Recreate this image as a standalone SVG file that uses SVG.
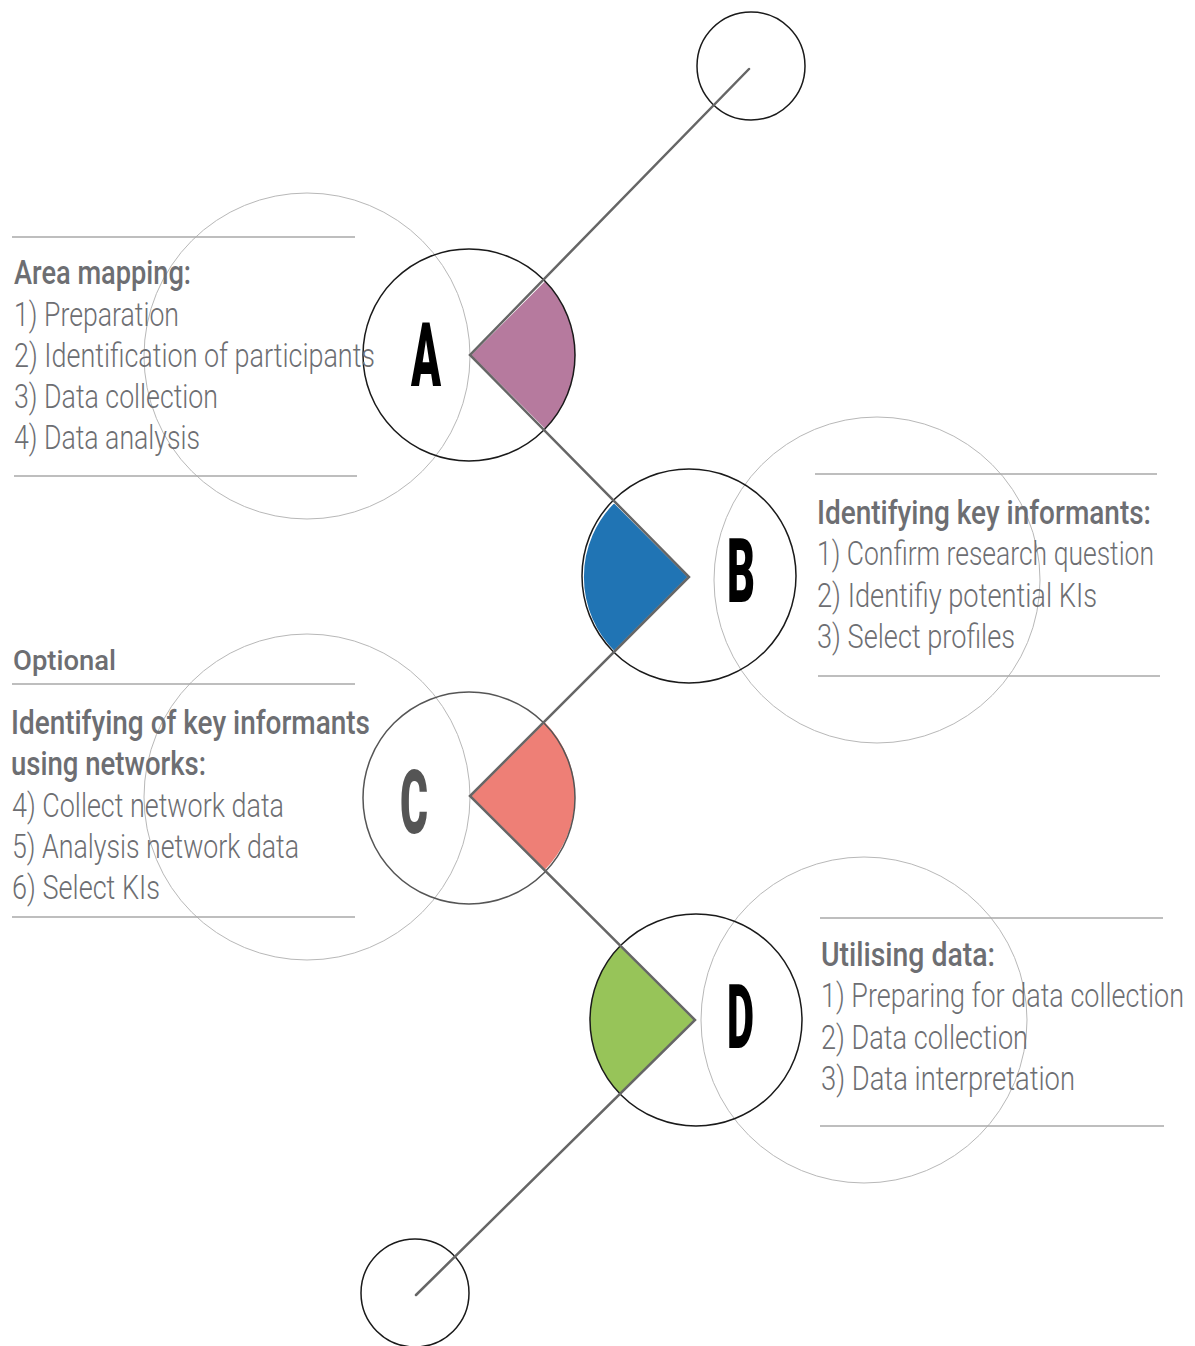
<svg xmlns="http://www.w3.org/2000/svg" width="1195" height="1346" viewBox="0 0 1195 1346">
<style>
.bg{fill:none;stroke:#b8b8b8;stroke-width:1}
.node{fill:none;stroke:#1a1a1a;stroke-width:1.5}
.rule{stroke:#a8a8a8;stroke-width:1.5}
.t{font-family:Roboto,"Liberation Sans",sans-serif;font-size:34px;font-weight:300;fill:#6d6e72}
.h{font-family:Roboto,"Liberation Sans",sans-serif;font-size:34px;font-weight:500;fill:#6d6e72}
.big{font-family:Roboto,"Liberation Sans",sans-serif;font-size:89px;font-weight:900;fill:#000}
.wedge{stroke:#fff;stroke-width:2}
.conn{fill:none;stroke:#666;stroke-width:2.5;stroke-linecap:round}
</style>
<rect width="1195" height="1346" fill="#fff"/>
<g id="background-circles">
<circle class="bg" cx="307" cy="356" r="163"/>
<circle class="bg" cx="877" cy="580" r="163"/>
<circle class="bg" cx="307" cy="797" r="163"/>
<circle class="bg" cx="864" cy="1020" r="163"/>
</g>
<g id="start">
<circle class="node" cx="751" cy="66" r="54"/>
</g>
<g id="end">
<circle class="node" cx="415" cy="1293" r="54"/>
</g>
<g id="node-A">
<path class="wedge" fill="#b67a9e" d="M470,355 L545,280 A106,106 0 0,1 545,430 Z"/>
<circle class="node" cx="469" cy="355" r="106"/>
<text class="big" x="411" y="386" textLength="30" lengthAdjust="spacingAndGlyphs">A</text>
</g>
<g id="node-B">
<path class="wedge" fill="#2074b4" d="M689,577 L614,502 A106,106 0 0,0 614,652 Z"/>
<circle class="node" cx="689" cy="576" r="107"/>
<text class="big" x="727" y="602" textLength="28" lengthAdjust="spacingAndGlyphs">B</text>
</g>
<g id="node-C">
<path class="wedge" fill="#ee7f76" d="M470,796 L545,721 A106,106 0 0,1 545,871 Z"/>
<circle class="node" cx="469" cy="798" r="106" style="stroke:#555"/>
<text class="big" x="400" y="833" textLength="28" lengthAdjust="spacingAndGlyphs" style="fill:#555">C</text>
</g>
<g id="node-D">
<path class="wedge" fill="#97c459" d="M695,1020 L620,945 A106,106 0 0,0 620,1095 Z"/>
<circle class="node" cx="696" cy="1020" r="106"/>
<text class="big" x="727" y="1048" textLength="27" lengthAdjust="spacingAndGlyphs">D</text>
</g>
<g id="connectors">
<path class="conn" d="M749,69 L470,355 L689,577 L470,796 L695,1020 L416,1295"/>
</g>
<g id="label-A">
<line class="rule" x1="12" y1="237" x2="355" y2="237"/>
<text class="h" x="14" y="284" textLength="177" lengthAdjust="spacingAndGlyphs">Area mapping:</text>
<text class="t" x="14" y="326" textLength="165" lengthAdjust="spacingAndGlyphs">1) Preparation</text>
<text class="t" x="14" y="367" textLength="361" lengthAdjust="spacingAndGlyphs">2) Identification of participants</text>
<text class="t" x="14" y="408" textLength="204" lengthAdjust="spacingAndGlyphs">3) Data collection</text>
<text class="t" x="14" y="449" textLength="186" lengthAdjust="spacingAndGlyphs">4) Data analysis</text>
<line class="rule" x1="14" y1="476" x2="357" y2="476"/>
</g>
<g id="label-B">
<line class="rule" x1="815" y1="474" x2="1157" y2="474"/>
<text class="h" x="817" y="524" textLength="334" lengthAdjust="spacingAndGlyphs">Identifying key informants:</text>
<text class="t" x="817" y="565" textLength="337" lengthAdjust="spacingAndGlyphs">1) Confirm research question</text>
<text class="t" x="817" y="607" textLength="280" lengthAdjust="spacingAndGlyphs">2) Identifiy potential KIs</text>
<text class="t" x="817" y="648" textLength="198" lengthAdjust="spacingAndGlyphs">3) Select profiles</text>
<line class="rule" x1="818" y1="676" x2="1160" y2="676"/>
</g>
<g id="label-C">
<text class="h" x="13" y="670" textLength="103" lengthAdjust="spacingAndGlyphs" style="font-size:28px">Optional</text>
<line class="rule" x1="12" y1="684" x2="355" y2="684"/>
<text class="h" x="11" y="734" textLength="359" lengthAdjust="spacingAndGlyphs">Identifying of key informants</text>
<text class="h" x="11" y="775" textLength="195" lengthAdjust="spacingAndGlyphs">using networks:</text>
<text class="t" x="12" y="817" textLength="272" lengthAdjust="spacingAndGlyphs">4) Collect network data</text>
<text class="t" x="12" y="858" textLength="287" lengthAdjust="spacingAndGlyphs">5) Analysis network data</text>
<text class="t" x="12" y="899" textLength="148" lengthAdjust="spacingAndGlyphs">6) Select KIs</text>
<line class="rule" x1="12" y1="917" x2="355" y2="917"/>
</g>
<g id="label-D">
<line class="rule" x1="820" y1="918" x2="1163" y2="918"/>
<text class="h" x="821" y="966" textLength="174" lengthAdjust="spacingAndGlyphs">Utilising data:</text>
<text class="t" x="821" y="1007" textLength="363" lengthAdjust="spacingAndGlyphs">1) Preparing for data collection</text>
<text class="t" x="821" y="1049" textLength="207" lengthAdjust="spacingAndGlyphs">2) Data collection</text>
<text class="t" x="821" y="1090" textLength="254" lengthAdjust="spacingAndGlyphs">3) Data interpretation</text>
<line class="rule" x1="820" y1="1126" x2="1164" y2="1126"/>
</g>
</svg>
